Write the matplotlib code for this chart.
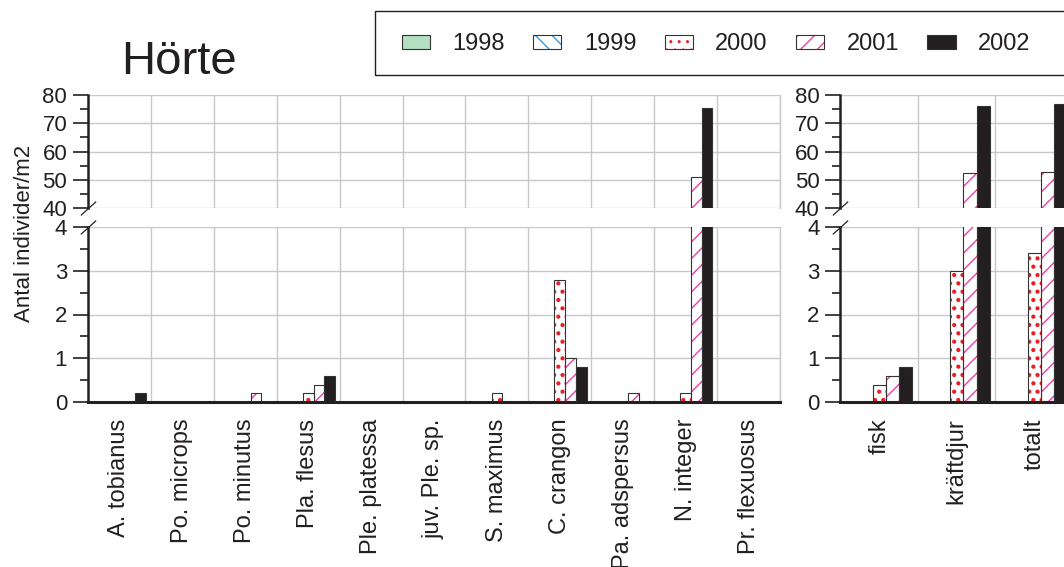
import matplotlib
matplotlib.use('Agg')
import matplotlib.pyplot as plt
from matplotlib.patches import Patch, Rectangle
from matplotlib.legend_handler import HandlerTuple
from matplotlib.ticker import MultipleLocator, FixedLocator
import numpy as np

plt.rcParams['font.family'] = ['Liberation Sans', 'DejaVu Sans']

# ---------------- data ----------------
species = ['A. tobianus', 'Po. microps', 'Po. minutus', 'Pla. flesus', 'Ple. platessa',
           'juv. Ple. sp.', 'S. maximus', 'C. crangon', 'Pa. adspersus', 'N. integer',
           'Pr. flexuosus']
years = ['1998', '1999', '2000', '2001', '2002']

sp_1998 = [0, 0, 0, 0, 0, 0, 0, 0, 0, 0, 0]
sp_1999 = [0, 0, 0, 0, 0, 0, 0, 0, 0, 0, 0]
sp_2000 = [0, 0, 0, 0.2, 0, 0, 0.2, 2.8, 0, 0.2, 0]
sp_2001 = [0, 0, 0.2, 0.4, 0, 0, 0, 1.0, 0.2, 51.0, 0]
sp_2002 = [0.2, 0, 0, 0.6, 0, 0, 0, 0.8, 0, 75.3, 0]

groups = ['fisk', 'kräftdjur', 'totalt']
grp_1998 = [0, 0, 0]
grp_1999 = [0, 0, 0]
grp_2000 = [0.4, 3.0, 3.4]
grp_2001 = [0.6, 52.3, 52.8]
grp_2002 = [0.8, 76.1, 76.9]

# ---------------- styles ----------------
W, H = 1064, 567
DARK = '#231f20'
EDGE = '#333333'
GRID = '#c8c8c8'
BW = 0.17
styles = [
    dict(fc='#b3dfc3', hatch=None, hc=None, hlw=1.0),
    dict(fc='white', hatch='\\\\', hc='#3b9ad8', hlw=1.0),
    dict(fc='white', hatch='..', hc='#ec1c24', hlw=1.8),
    dict(fc='white', hatch='//', hc='#ee3fa5', hlw=1.0),
    dict(fc=DARK, hatch=None, hc=None, hlw=1.0),
]

fig = plt.figure(figsize=(W / 100, H / 100), dpi=100)


def px_axes(x0, y0, x1, y1):
    return fig.add_axes([x0 / W, 1 - y1 / H, (x1 - x0) / W, (y1 - y0) / H])


def draw_bars(ax, series):
    n = len(series[0])
    x = np.arange(n)
    for i, (vals, st) in enumerate(zip(series, styles)):
        xs = x + (i - 2) * BW
        if st['hatch']:
            with plt.rc_context({'hatch.linewidth': st['hlw']}):
                ax.bar(xs, vals, BW, color='white', edgecolor=st['hc'], hatch=st['hatch'],
                       linewidth=0, zorder=2)
            ax.bar(xs, vals, BW, fill=False, edgecolor=EDGE, linewidth=0.8, zorder=3)
        else:
            ax.bar(xs, vals, BW, color=st['fc'], edgecolor=EDGE, linewidth=0.8, zorder=3)


def break_mark(ax, y):
    ax.plot([0], [y], transform=ax.transAxes, marker=[(-1, -0.9), (1, 0.9)],
            markersize=11, mec=DARK, mew=0.9, clip_on=False, zorder=10)


def setup(ax_top, ax_bot, labels):
    n = len(labels)
    for ax in (ax_top, ax_bot):
        ax.set_xlim(-0.5, n - 0.5)
        ax.xaxis.set_major_locator(FixedLocator(list(range(n))))
        ax.xaxis.set_minor_locator(FixedLocator(list(np.arange(n) + 0.5)))
        ax.grid(True, which='minor', axis='x', color=GRID, lw=1.0)
        ax.grid(True, which='major', axis='y', color=GRID, lw=1.0)
        ax.grid(False, which='major', axis='x')
        ax.set_axisbelow(True)
        ax.tick_params(axis='x', which='both', length=0)
        ax.tick_params(axis='y', which='major', length=11, width=1.2, labelsize=16,
                       pad=4, color=DARK, labelcolor=DARK)
        ax.tick_params(axis='y', which='minor', length=5.5, width=1.2, color=DARK)
        ax.spines['top'].set_visible(False)
        ax.spines['right'].set_color(GRID)
        ax.spines['right'].set_linewidth(1.0)
        ax.spines['left'].set_linewidth(1.8)
        ax.spines['left'].set_color(DARK)
    ax_top.set_ylim(40, 80)
    ax_top.yaxis.set_major_locator(MultipleLocator(10))
    ax_top.yaxis.set_minor_locator(MultipleLocator(5))
    ax_top.spines['bottom'].set_visible(False)
    ax_top.tick_params(axis='x', labelbottom=False)
    ax_bot.set_ylim(0, 4)
    ax_bot.yaxis.set_major_locator(MultipleLocator(1))
    ax_bot.yaxis.set_minor_locator(MultipleLocator(0.5))
    ax_bot.spines['bottom'].set_linewidth(2.2)
    ax_bot.spines['bottom'].set_color(DARK)
    ax_bot.set_xticks(list(range(n)), labels, rotation=90, fontsize=17, color=DARK)
    ax_bot.tick_params(axis='x', pad=12)
    break_mark(ax_top, 0)
    break_mark(ax_bot, 1)


# left panel
axL_top = px_axes(88, 95, 780, 208)
axL_bot = px_axes(88, 227, 780, 402)
sp_series = [sp_1998, sp_1999, sp_2000, sp_2001, sp_2002]
for ax in (axL_top, axL_bot):
    draw_bars(ax, sp_series)
setup(axL_top, axL_bot, species)

# right panel (extends past the right edge of the figure)
axR_top = px_axes(840.5, 95, 1073, 208)
axR_bot = px_axes(840.5, 227, 1073, 402)
grp_series = [grp_1998, grp_1999, grp_2000, grp_2001, grp_2002]
for ax in (axR_top, axR_bot):
    draw_bars(ax, grp_series)
setup(axR_top, axR_bot, groups)

# y label and title
fig.text(25 / W, 1 - 233 / H, 'Antal individer/m2', rotation=90, ha='center',
         va='center', fontsize=16, color=DARK)
fig.text(121 / W, 1 - 74 / H, 'Hörte', fontsize=34, ha='left', va='baseline', color=DARK)

# legend
handles = []
for st in styles:
    if st['hatch']:
        with plt.rc_context({'hatch.linewidth': st['hlw']}):
            hp = Patch(facecolor='white', edgecolor=st['hc'], hatch=st['hatch'], lw=0)
        handles.append((hp, Patch(fill=False, edgecolor=EDGE, lw=0.8)))
    else:
        handles.append(Patch(facecolor=st['fc'], edgecolor=EDGE, lw=0.8))
fig.legend(handles, years, handler_map={tuple: HandlerTuple(ndivide=1, pad=0)},
           loc='center left', bbox_to_anchor=(402 / W, 1 - 44 / H), ncol=5, frameon=False,
           fontsize=17, handlelength=1.19, handleheight=0.55, handletextpad=0.95,
           columnspacing=1.2, borderpad=0, borderaxespad=0, labelcolor=DARK)
fig.patches.append(Rectangle((375 / W, 1 - 75 / H), (1100 - 375) / W, 64 / H,
                             transform=fig.transFigure, fill=False, edgecolor=DARK, lw=1.0))

fig.savefig('out.png', dpi=100)
